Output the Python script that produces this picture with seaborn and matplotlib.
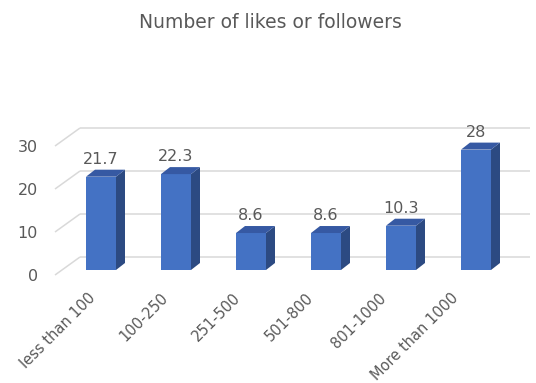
import matplotlib
matplotlib.use("Agg")
import matplotlib.pyplot as plt
from matplotlib.patches import Polygon
from matplotlib.transforms import ScaledTranslation
import seaborn as sns
import pandas as pd

# Data
categories = ["less than 100", "100-250", "251-500", "501-800", "801-1000", "More than 1000"]
values = [21.7, 22.3, 8.6, 8.6, 10.3, 28]
y_ticks = [0, 10, 20, 30]
title = "Number of likes or followers"

df = pd.DataFrame({"range": categories, "share": values})

sns.set_theme(style="white")
plt.rcParams["font.family"] = ["DejaVu Sans"]

W, H, DPI = 536, 383, 100
fig = plt.figure(figsize=(W / DPI, H / DPI), dpi=DPI)

# Pixel geometry of the pseudo-3D layout
SLOT = 75.0          # px between category centres
UNIT = 4.3           # px per value unit
FIRST_X = 101.0      # px of first category centre
ZERO_Y = 270.0       # px (from top) of the bar base, front plane
AX_LEFT, AX_BOTTOM = 45.0, 285.0

ax = fig.add_axes([AX_LEFT / W, (H - AX_BOTTOM) / H, (W - AX_LEFT) / W, AX_BOTTOM / H])

front_col = "#4472C4"
side_col = "#2C4A82"
top_col = "#3659A3"
grid_col = "#D9D9D9"
text_col = "#595959"

sns.barplot(data=df, x="range", y="share", color=front_col, width=0.4,
            saturation=1, linewidth=0, ax=ax, zorder=3)
ax.set_xlim((AX_LEFT - FIRST_X) / SLOT, (W - FIRST_X) / SLOT)
ax.set_ylim(-(AX_BOTTOM - ZERO_Y) / UNIT, ZERO_Y / UNIT)

# Back wall gridlines and floor diagonals
wall_dx, wall_dy = 25.0 / SLOT, 18.0 / UNIT      # back-wall offset
front_shift = 5.0 / UNIT                          # front plane lies below bar base
x_front = (55.0 - FIRST_X) / SLOT
x_back = x_front + wall_dx
x_end = (530.0 - FIRST_X) / SLOT
for v in y_ticks:
    yf = v - front_shift
    yb = yf + wall_dy
    ax.plot([x_front, x_back], [yf, yb], color=grid_col, lw=1.1, zorder=1,
            solid_capstyle="butt")
    ax.plot([x_back, x_end], [yb, yb], color=grid_col, lw=1.1, zorder=1,
            solid_capstyle="butt")

# Side and top faces of each bar
ddx, ddy = 9.0 / SLOT, 7.0 / UNIT
for p in ax.patches[:len(values)]:
    x0 = p.get_x()
    x1 = x0 + p.get_width()
    h = p.get_height()
    side = Polygon([(x1, 0), (x1 + ddx, ddy), (x1 + ddx, h + ddy), (x1, h)],
                   closed=True, facecolor=side_col, edgecolor="none", zorder=3)
    top = Polygon([(x0, h), (x0 + ddx, h + ddy), (x1 + ddx, h + ddy), (x1, h)],
                  closed=True, facecolor=top_col, edgecolor="none", zorder=3)
    ax.add_patch(side)
    ax.add_patch(top)

# Value labels
ax.bar_label(ax.containers[0], labels=[f"{v:g}" for v in values], padding=7,
             fontsize=11.5, color=text_col)

# Axis ticks and labels
for s in ax.spines.values():
    s.set_visible(False)
ax.set_xlabel("")
ax.set_ylabel("")
ax.set_yticks(y_ticks)
ax.set_yticklabels([str(v) for v in y_ticks], fontsize=11.5, color=text_col)
ax.tick_params(axis="y", length=0, pad=5)
for lab in ax.get_yticklabels():
    lab.set_transform(lab.get_transform() +
                      ScaledTranslation(0, -front_shift * UNIT / DPI, fig.dpi_scale_trans))

ax.set_xticks(range(len(categories)))
ax.set_xticklabels(categories, rotation=45, ha="right", va="top",
                   rotation_mode="anchor", fontsize=10.5, color=text_col)
ax.tick_params(axis="x", length=0, pad=1)
# category labels sit on the front plane, which is slightly narrower
for i, lab in enumerate(ax.get_xticklabels()):
    lab.set_transform(lab.get_transform() +
                      ScaledTranslation((-13.0 - 2.4 * i) / DPI, -4.0 / DPI,
                                        fig.dpi_scale_trans))

fig.text(0.505, 1 - 22.0 / H, title, ha="center", va="center",
         fontsize=13.5, color=text_col)

fig.savefig("out.png", dpi=DPI)
